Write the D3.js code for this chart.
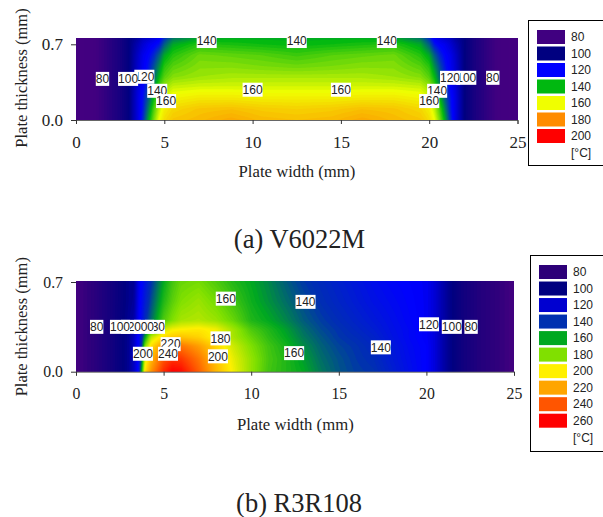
<!DOCTYPE html>
<html><head><meta charset="utf-8">
<script src="https://cdn.jsdelivr.net/npm/d3@7/dist/d3.min.js"></script>
<style>html,body{margin:0;padding:0;background:#fff;overflow:hidden}svg{display:block}</style>
</head><body><svg id="c" width="603" height="517"></svg>
<script>
// ---- Chart (a) V6022M ----
const colsA=[0,1,2,2.5,3,3.5,3.8,4.1,4.4,4.7,5,5.5,7,8.8,10.5,12.5,14.5,16.2,18,19.5,20,20.3,20.6,20.9,21.2,21.5,22,22.5,23,24,25];
const rowYA=[0,.1,.2,.3,.4,.5,.6,.7,.755];
const rowA0=[75,78,88,93,100,115,125,138,150,160,166,170,172,175,172,171,172,175,172,170,166,160,150,138,125,115,100,93,88,78,75];
const rowA1=[75,78,88,93,100,115,123,134,146,156,163,167,170,171,169,168,169,171,170,167,163,156,146,134,123,115,100,93,88,78,75];
const rowA2=[75,78,88,93,100,115,122,130,140,150,158,162,164,164,163,163,163,164,164,162,158,150,140,130,122,115,100,93,88,78,75];
const rowA3=[75,78,88,93,100,114,120,127,136,146,153,157,158,158,158,158,158,158,158,157,153,146,136,127,120,114,100,93,88,78,75];
const rowA4=[75,78,88,93,100,113,119,124,131,140,147,151,153,154,154,154,154,154,153,151,147,140,131,124,119,113,100,93,88,78,75];
const rowA5=[75,78,88,93,100,112,118,122,128,135,143,147,151,151,150,149,150,151,151,147,143,135,128,122,118,112,100,93,88,78,75];
const rowA6=[75,78,88,93,100,111,117,120,124,130,138,143,149,148,147,145,147,148,149,143,138,130,124,120,117,111,100,93,88,78,75];
const rowA7=[75,78,88,93,100,108,113,117,119,122,130,138,143,142,141,140,141,142,143,138,130,122,119,117,113,108,100,93,88,78,75];
const rowA8=[75,78,88,93,100,105,110,112,115,118,125,133,138,139,139,139,139,139,138,133,125,118,115,112,110,105,100,93,88,78,75];
const stopsA=[75,80,100,120,140,160,180,200];
const paletteA=["#440080","#400080","#000080","#0000ff","#00b810","#f0ff00","#ff8c00","#ff0000"];
const legendA=["80","100","120","140","160","180","200"];
const legendFillA=["#400080","#000080","#0000ff","#00b810","#f0ff00","#ff8c00","#ff0000"];
const labelsA=[["80",1.5,.38],["120",3.87,.40],["100",2.95,.38],["140",4.6,.27],["160",5.1,.175],["140",7.4,.73],["140",12.5,.73],["140",17.6,.73],["160",10,.28],["160",15,.28],["140",20.45,.27],["160",20,.175],["100",22.1,.39],["120",21.18,.39],["80",23.6,.39]];

// ---- Chart (b) R3R108 ----
const colsB=[0,1,2,3,3.3,3.55,3.75,3.95,4.3,5,5.5,6,7,8,9,10,11,12,13,14,15,16,17,18,19,20,20.5,21,21.5,22,23,25];
const rowYB=[0,.1,.2,.27,.33,.4,.55,.71];
const rowB0=[75,82,92,103,110,120,160,205,225,250,260,258,238,215,198,183,170,165,160,152,146,142,140,133,126,120,114,106,100,94,86,75];
const rowB1=[75,82,92,103,110,120,150,195,215,240,248,247,232,212,196,183,171,165,158,150,145,141,138,131,125,120,114,106,100,94,86,75];
const rowB2=[75,82,92,103,110,120,140,180,205,225,232,232,222,207,192,180,170,163,155,148,143,140,136,130,124,120,114,106,100,94,86,75];
const rowB3=[75,82,92,103,110,120,135,160,190,205,210,212,208,198,186,176,167,160,152,146,141,138,134,128,123,119,114,106,100,94,86,75];
const rowB4=[75,82,92,103,108,118,130,145,165,192,198,200,202,198,185,172,165,158,150,144,140,136,132,127,123,119,114,106,100,94,86,75];
const rowB5=[75,82,92,103,106,117,125,138,150,172,180,186,188,184,176,165,160,154,147,142,138,134,130,126,122,118,113,106,100,94,86,75];
const rowB6=[75,82,92,102,104,116,123,132,145,165,174,180,184,178,170,162,156,150,144,139,135,131,127,124,121,118,113,106,100,94,86,75];
const rowB7=[75,82,92,102,103,115,121,128,140,160,170,176,178,172,165,160,154,147,141,137,133,129,125,122,120,118,113,106,100,94,86,75];
const stopsB=[75,80,100,120,140,160,180,200,220,240,260];
const paletteB=["#440080","#30007c","#000080","#0000ff","#0030b0","#00a820","#80e000","#fff000","#ffa500","#ff5500","#ff0000"];
const legendB=["80","100","120","140","160","180","200","220","240","260"];
const legendFillB=["#2d0078","#000080","#0000d0","#0030b0","#00a820","#80e000","#fff000","#ffa500","#ff5500","#ff0000"];
const labelsB=[["80",1.18,.35],["130",4.51,.35],["100",3.88,.35],["120",3.14,.35],["100",2.51,.35],["220",5.4,.215],["200",3.82,.14],["240",5.25,.14],["180",8.25,.26],["200",8.1,.12],["160",8.55,.57],["140",13.1,.545],["160",12.45,.145],["140",17.4,.19],["120",20.15,.37],["100",21.45,.35],["80",22.55,.35]];

const thicknessTicks=[0,.7], widthTicks=[0,5,10,15,20,25];
const titleA="(a) V6022M", titleB="(b) R3R108";
const xLabel="Plate width (mm)", yLabel="Plate thickness (mm)";

const svg=d3.select("#c");
const serif="'Liberation Serif','Times New Roman',serif", sans="'Liberation Sans',Arial,sans-serif";

function panel(id,o){
  const x=d3.scaleLinear().domain([0,25]).range(o.xr);
  const y=d3.scaleLinear().domain([0,.7]).range(o.yr);
  const color=d3.scaleLinear().domain(o.stops).range(o.palette).clamp(true);
  const rowScales=o.rows.map(r=>d3.scaleLinear().domain(o.cols).range(r).clamp(true));
  const pad=3;
  const bx=Math.round(o.xr[1]-o.xr[0])+1, by=Math.round(o.yr[0]-y(o.top))+1;
  const nx=bx+2*pad, ny=by+2*pad;
  const vals=new Float64Array(nx*ny);
  for(let j=0;j<ny;j++){
    const yy=Math.max(0,Math.min(o.top,o.top*(j-pad)/(by-1)));
    let k=d3.bisectRight(o.rowY,yy)-1; k=Math.max(0,Math.min(o.rowY.length-2,k));
    const t=Math.min(1,(yy-o.rowY[k])/(o.rowY[k+1]-o.rowY[k]));
    for(let i=0;i<nx;i++){
      const xx=25*(i-pad)/(bx-1);
      vals[j*nx+i]=rowScales[k](xx)*(1-t)+rowScales[k+1](xx)*t;
    }
  }
  const thresholds=d3.range(o.stops[0],o.stops[o.stops.length-1]+2,1.5);
  const contours=d3.contours().size([nx,ny]).smooth(true).thresholds(thresholds)(vals);
  const proj=d3.geoTransform({point(px,py){
    this.stream.point(x(25*(px-.5-pad)/(bx-1)), y(o.top*(py-.5-pad)/(by-1)));
  }});
  const path=d3.geoPath(proj);
  const g=svg.append("g").attr("id",id);
  const cx0=Math.round(x(0)), cy0=Math.round(y(o.top)), cw=Math.round(x(25))-cx0, ch=Math.round(y(0))-cy0;
  g.append("clipPath").attr("id",id+"clip").append("rect").attr("x",cx0).attr("y",cy0).attr("width",cw).attr("height",ch);
  const f=g.append("g").attr("clip-path",`url(#${id}clip)`);
  f.append("rect").attr("x",cx0).attr("y",cy0).attr("width",cw).attr("height",ch).attr("fill",color(o.stops[0]));
  f.selectAll("path").data(contours).join("path").attr("d",d=>path(d)).attr("fill",d=>color(d.value+.75)).attr("stroke","none");

  const ax=g.append("g").attr("transform",`translate(0,${y(0)})`)
    .call(d3.axisBottom(x).tickValues(widthTicks).tickFormat(d3.format("d")).tickSize(4));
  const ay=g.append("g").attr("transform",`translate(${x(0)},0)`)
    .call(d3.axisLeft(y).tickValues(thicknessTicks).tickFormat(d3.format(".1f")).tickSize(5));
  ay.select(".domain").remove();
  ax.select(".domain").attr("stroke","#666");
  ax.selectAll("text").attr("y",o.tickBase).attr("dy",0);
  ay.selectAll("text").attr("x",-13);
  [ax,ay].forEach(a=>{a.selectAll("text").attr("font-family",serif).attr("font-size",o.tickFont).attr("fill","#222");
    a.selectAll("line").attr("stroke","#333");});

  const lab=g.selectAll(".lab").data(o.labels).join("g").attr("class","lab")
    .attr("transform",d=>`translate(${x(d[1])},${y(d[2])})`);
  lab.append("rect").attr("x",d=>-d[0].length*3.34).attr("y",-7)
    .attr("width",d=>d[0].length*6.68).attr("height",14).attr("fill","#fff");
  lab.append("text").text(d=>d[0]).attr("text-anchor","middle").attr("dy","0.36em")
    .attr("font-family",sans).attr("font-size",12).attr("fill","#222");

  g.append("text").text(xLabel).attr("x",o.xlab[0]).attr("y",o.xlab[1]).attr("text-anchor","middle")
    .attr("font-family",serif).attr("font-size",16.7).attr("fill","#222");
  g.append("text").text(yLabel).attr("transform",`translate(${o.ylab[0]},${o.ylab[1]}) rotate(-90)`).attr("text-anchor","middle")
    .attr("font-family",serif).attr("font-size",16.5).attr("fill","#222");
  g.append("text").text(o.title).attr("x",o.tpos[0]).attr("y",o.tpos[1]).attr("text-anchor","middle")
    .attr("font-family",serif).attr("font-size",26.5).attr("fill","#222");

  const l=o.leg;
  g.append("rect").attr("x",l.x+.5).attr("y",l.y+.5).attr("width",90).attr("height",l.h).attr("fill","#fff").attr("stroke","#000");
  const band=d3.scalePoint().domain(o.legend).range([l.y0,l.y1]);
  const it=g.selectAll(".it").data(o.legend).join("g").attr("class","it");
  it.append("rect").attr("x",l.sx).attr("y",d=>band(d)).attr("width",28).attr("height",14)
    .attr("fill",(d,i)=>o.legendFill[i]);
  it.append("text").text(d=>d).attr("x",l.sx+34).attr("y",d=>band(d)+7).attr("dy","0.36em")
    .attr("font-family",sans).attr("font-size",12).attr("fill","#222");
  g.append("text").attr("x",l.sx+34).attr("y",l.unitY).attr("font-family",sans).attr("font-size",12).attr("fill","#222").text("[°C]");
}

panel("a",{xr:[76,517.5],yr:[120,44.3],top:.755,cols:colsA,rowY:rowYA,rows:[rowA0,rowA1,rowA2,rowA3,rowA4,rowA5,rowA6,rowA7,rowA8],
  stops:stopsA,palette:paletteA,labels:labelsA,legend:legendA,legendFill:legendFillA,title:titleA,
  tickFont:17,tickBase:28,xlab:[297,177],ylab:[27,78],tpos:[299.5,248],
  leg:{x:528,y:20,h:145,sx:537,y0:30,y1:129,unitY:157}});
panel("b",{xr:[76,514],yr:[371.7,282],top:.71,cols:colsB,rowY:rowYB,rows:[rowB0,rowB1,rowB2,rowB3,rowB4,rowB5,rowB6,rowB7],
  stops:stopsB,palette:paletteB,labels:labelsB,legend:legendB,legendFill:legendFillB,title:titleB,
  tickFont:15.8,tickBase:27,xlab:[295.3,430],ylab:[27,326.7],tpos:[299,512],
  leg:{x:530,y:255,h:196,sx:539,y0:265,y1:413.7,unitY:442}});
</script></body></html>
